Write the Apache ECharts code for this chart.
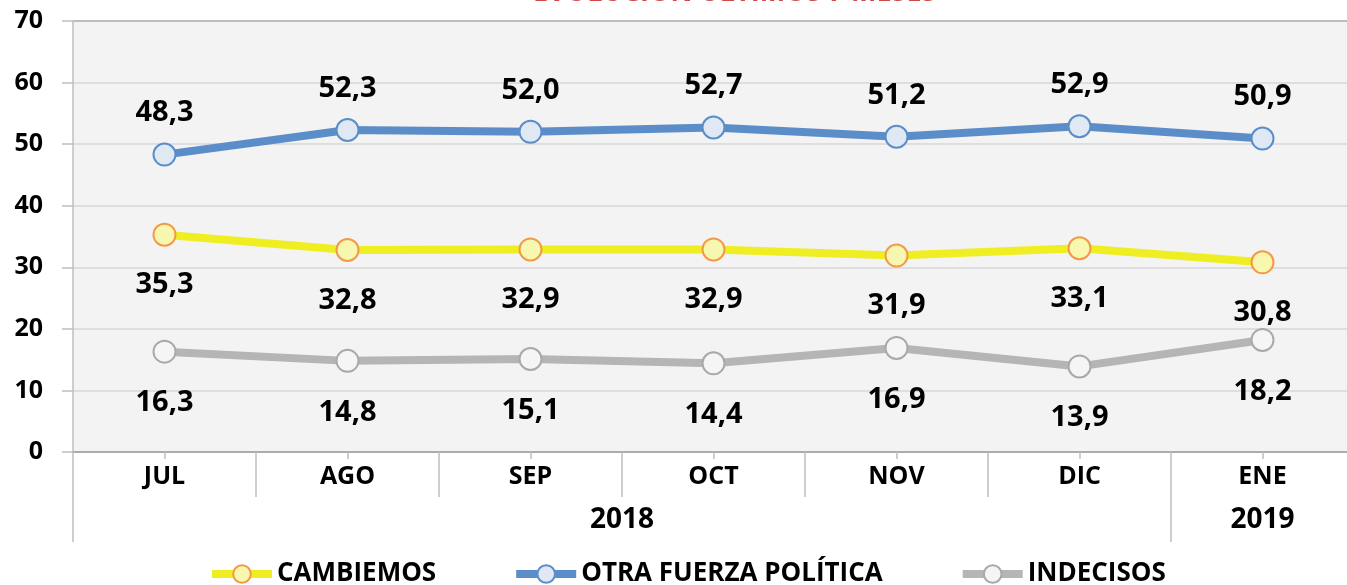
<!DOCTYPE html>
<html>
<head>
<meta charset="utf-8">
<script src="https://cdn.jsdelivr.net/npm/echarts@6/dist/echarts.min.js"></script>
<style>
    html, body { margin: 0; padding: 0; background: #fff; }
    #main { width: 1347px; height: 585px; }
</style>
</head>
<body>
<div id="main"></div>
<script>
// datos del grafico
var meses = ["JUL", "AGO", "SEP", "OCT", "NOV", "DIC", "ENE"];
var cambiemos = [35.3, 32.8, 32.9, 32.9, 31.9, 33.1, 30.8];
var otraFuerza = [48.3, 52.3, 52.0, 52.7, 51.2, 52.9, 50.9];
var indecisos = [16.3, 14.8, 15.1, 14.4, 16.9, 13.9, 18.2];
var anios = ["2018", "2019"];
var anioCentros = [3, 6.5];     // centro de cada bloque de meses
var anioCortes = [0, 6];
var tituloTexto = "EVOLUCIÓN ÚLTIMOS 7 MESES";

var fuente = "Open Sans";
var chart = echarts.init(document.getElementById("main"));

function etiqueta(p) {
    return p.value.toFixed(1).replace(".", ",");
}

function serie(nombre, datos, linea, relleno, borde, pos, dist) {
    return {
        name: nombre,
        type: "line",
        data: datos,
        symbol: "circle",
        symbolSize: 22,
        lineStyle: { color: linea, width: 8 },
        itemStyle: { color: relleno, borderColor: borde, borderWidth: 2 },
        label: {
            show: true,
            position: pos,
            distance: dist,
            formatter: etiqueta,
            fontFamily: fuente,
            fontWeight: "bold",
            fontSize: 29,
            color: "#000"
        },
        emphasis: { disabled: true },
        animation: false,
        z: 3
    };
}

var option = {
    backgroundColor: "#fff",
    animation: false,
    title: {
        text: tituloTexto,
        left: 528,
        top: -25,
        textStyle: { color: "#d0494b", fontFamily: fuente, fontWeight: "bold", fontSize: 27 }
    },
    legend: {
        top: 556,
        left: 203,
        itemWidth: 60,
        itemHeight: 22,
        itemGap: 76,
        lineStyle: { width: 8 },
        textStyle: { fontFamily: fuente, fontWeight: "bold", fontSize: 26, color: "#000" },
        data: ["CAMBIEMOS", "OTRA FUERZA POLÍTICA", "INDECISOS"]
    },
    grid: {
        left: 73,
        top: 21,
        width: 1281,
        height: 431,
        outerBoundsMode: "none",
        containLabel: false,
        show: true,
        backgroundColor: "#f3f3f3",
        borderWidth: 0
    },
    xAxis: [
        {
            type: "category",
            data: meses,
            boundaryGap: true,
            axisLine: { lineStyle: { color: "#a6a6a6", width: 1.5 } },
            axisTick: { show: true, interval: 0, length: 45, lineStyle: { color: "#bfbfbf", width: 1.5 } },
            axisLabel: { margin: 12, fontFamily: fuente, fontWeight: "bold", fontSize: 25, color: "#000" },
            splitLine: { show: false }
        },
        {
            // marcas cortas en el centro de cada mes
            type: "category",
            data: meses,
            position: "bottom",
            axisLine: { show: false },
            axisTick: { show: true, alignWithLabel: true, length: 7, lineStyle: { color: "#bfbfbf", width: 1.5 } },
            axisLabel: { show: false },
            splitLine: { show: false }
        },
        {
            // fila de anios
            type: "value",
            min: 0,
            max: 7,
            position: "bottom",
            axisLine: { show: false },
            axisTick: { show: true, customValues: anioCortes, length: 90, lineStyle: { color: "#bfbfbf", width: 1.5 } },
            axisLabel: {
                show: true,
                customValues: anioCentros,
                margin: 54,
                formatter: function (v) {
                    return anios[anioCentros.indexOf(v)] || "";
                },
                fontFamily: fuente, fontWeight: "bold", fontSize: 28, color: "#000"
            },
            splitLine: { show: false }
        }
    ],
    yAxis: {
        type: "value",
        min: 0,
        max: 70,
        interval: 10,
        axisLine: { show: true, lineStyle: { color: "#bfbfbf", width: 1.5 } },
        axisTick: { show: true, length: 11, lineStyle: { color: "#bfbfbf", width: 1.5 } },
        axisLabel: { margin: 30, fontFamily: fuente, fontWeight: "bold", fontSize: 25, color: "#000" },
        splitLine: {
            show: true,
            lineStyle: {
                color: ["#bfbfbf", "#dedede", "#dedede", "#dedede", "#dedede", "#dedede", "#dedede", "#bdbdbd"],
                width: 2
            }
        }
    },
    series: [
        serie("CAMBIEMOS", cambiemos, "#eeee22", "#f7f7b0", "#f39a4a", "bottom", 24),
        serie("OTRA FUERZA POLÍTICA", otraFuerza, "#5b8ec8", "#dfe8f3", "#5b8ec8", "top", 15),
        serie("INDECISOS", indecisos, "#b5b5b5", "#f5f5f5", "#a9a9a9", "bottom", 25)
    ]
};

chart.setOption(option);
</script>
</body>
</html>
